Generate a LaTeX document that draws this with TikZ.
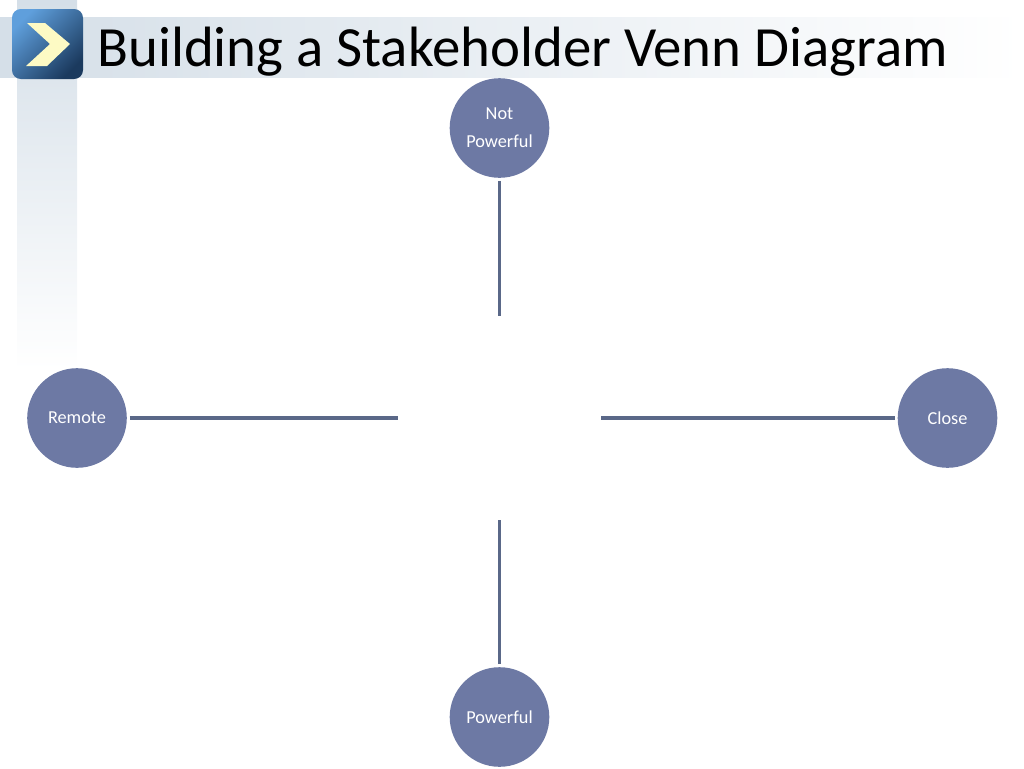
\documentclass[tikz,border=0pt]{standalone}
\usepackage{fontspec}
\setmainfont{Carlito}
\definecolor{bandblue}{HTML}{D5DFE8}
\definecolor{discblue}{HTML}{6D79A4}
\definecolor{spokeblue}{HTML}{5A6888}
\definecolor{iconlight}{HTML}{5F9FDC}
\definecolor{icondark}{HTML}{1B3A5E}
\definecolor{chevronyellow}{HTML}{FDFAC4}
\tikzset{
  axisdisc/.style={circle,fill=discblue,minimum size=56.7pt,inner sep=0pt,outer sep=1.7pt,text=white,font=\fontsize{10.4}{15.9}\selectfont,align=center},
  spoke/.style={draw=spokeblue,line width=1.8pt}
}
\begin{document}
\begin{tikzpicture}[x=0.02cm,y=0.02cm]
    \useasboundingbox (0,0) rectangle (1024,-768);
    \shade [left color=bandblue,right color=white] (0,-17) rectangle (1024,-77);
    \shade [top color=bandblue,bottom color=white] (17,0) rectangle (77,-370);
    \shade [rounded corners=5pt,top color=iconlight,bottom color=icondark,shading angle=45] (12,-9) rectangle (83,-79);
    \fill [chevronyellow] (27,-23) -- (45,-23) -- (70,-44) -- (47,-66) -- (26,-66) -- (50,-44) -- cycle;
    \node [anchor=base west,inner sep=0pt,font=\fontsize{32.35}{38}\selectfont] (title) at (97,-66) {Building a Stakeholder Venn Diagram};
    \node [axisdisc] (notpowerful) at (499.5,-128) {Not\\Powerful};
    \node [axisdisc] (powerful) at (499.5,-717) {Powerful};
    \node [axisdisc] (remote) at (77,-418) {Remote};
    \node [axisdisc] (close) at (947.5,-418) {Close};
    \coordinate (northend) at (499.5,-316);
    \coordinate (southend) at (499.5,-520);
    \coordinate (westend) at (398,-418);
    \coordinate (eastend) at (601,-418);
    \draw [spoke] (notpowerful) -- (northend);
    \draw [spoke] (powerful) -- (southend);
    \draw [spoke] (remote) -- (westend);
    \draw [spoke] (close) -- (eastend);
\end{tikzpicture}
\end{document}
